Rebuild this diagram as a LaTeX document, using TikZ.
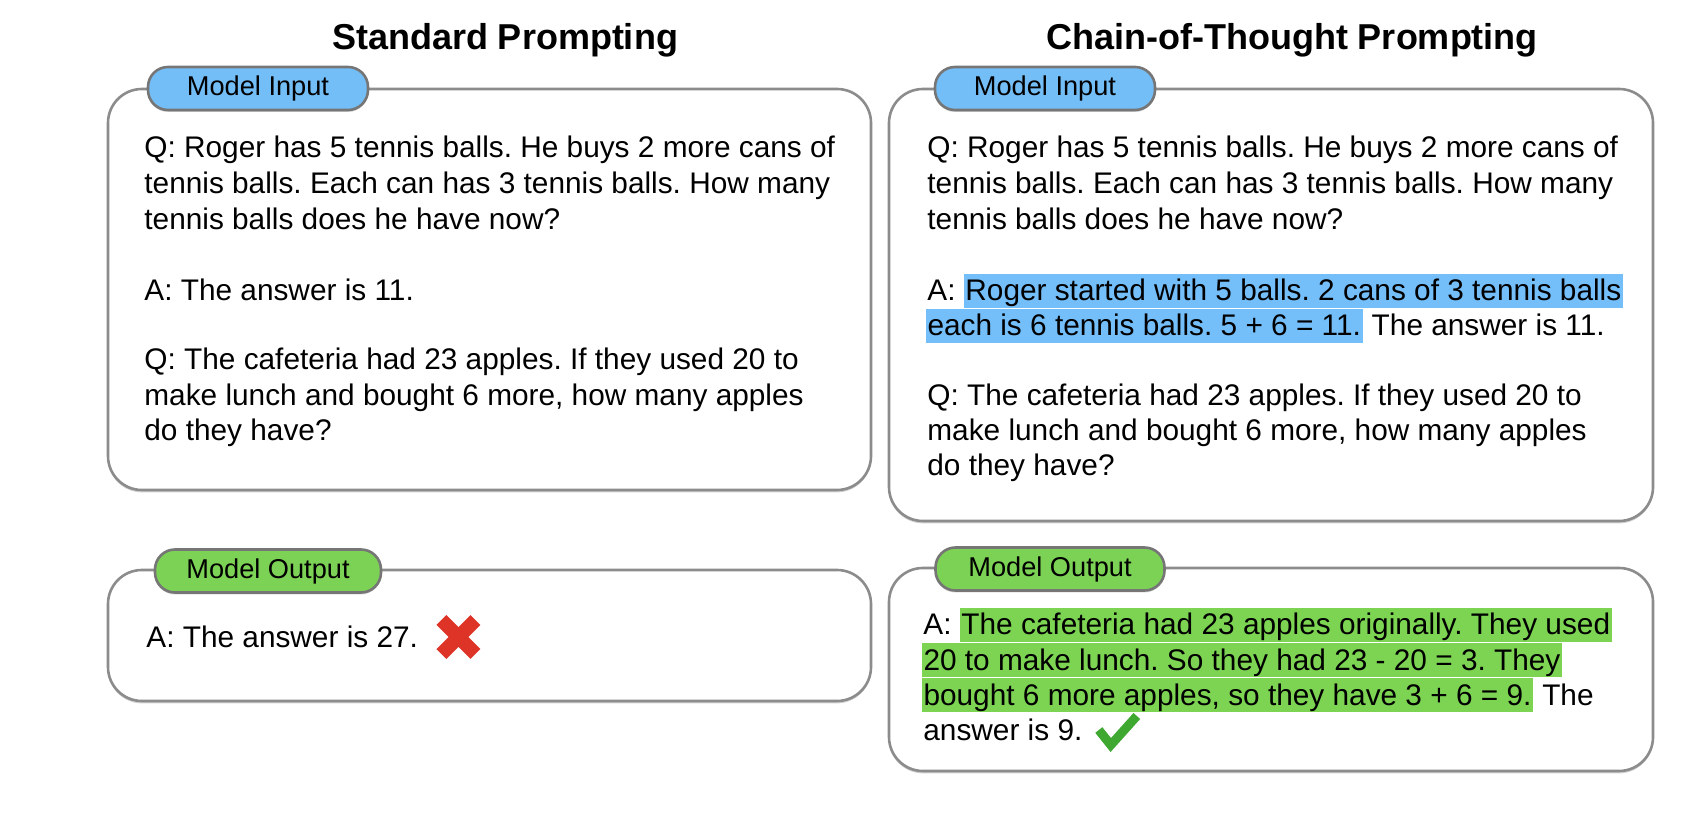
\documentclass[tikz,border=0pt]{standalone}
\usepackage{fontspec}
\setmainfont{Liberation Sans}
\usetikzlibrary{shadows,calc}
\definecolor{edge}{RGB}{140,140,140}
\definecolor{pilledge}{RGB}{118,118,118}
\definecolor{inblue}{RGB}{116,190,248}
\definecolor{outgreen}{RGB}{124,210,84}
\definecolor{hlblue}{RGB}{116,190,250}
\definecolor{hlgreen}{RGB}{124,212,82}
\definecolor{xred}{RGB}{222,52,40}
\definecolor{okgreen}{RGB}{62,168,48}
\newcommand\bodyfont{\fontsize{14.9}{17.8}\selectfont}
\frenchspacing
\begin{document}
\begin{tikzpicture}[x=0.5pt,y=-0.5pt,
 panel/.style={draw=edge, line width=1.3pt, rounded corners=17pt, fill=white,
   drop shadow={shadow xshift=0pt, shadow yshift=-1.2pt, opacity=0.3, fill=black!60}},
 pill/.style={draw=pilledge, line width=1.3pt, rounded corners=10pt, minimum height=21.5pt,
   inner sep=0pt, font=\fontsize{13.6}{16}\selectfont,
   drop shadow={shadow xshift=0pt, shadow yshift=-1pt, opacity=0.3, fill=black!60}},
 ttl/.style={font=\fontsize{18}{21}\selectfont\bfseries, inner sep=0pt},
 ln/.style={anchor=base west, inner sep=0pt, font=\bodyfont},
 hl/.style={ln, inner xsep=0.8pt, text height=13.6pt, text depth=3.6pt},
]
\useasboundingbox (0,0) rectangle (1696,822);

% titles
\node[ttl] (t1) at (505,40) {Standard Prompting};
\node[ttl] (t2) at (1292,40) {Chain-of-Thought Prompting};

% panels
\draw[panel] (108,89) rectangle (871,490);
\draw[panel] (108,570) rectangle (871,701);
\draw[panel] (889,89) rectangle (1653,521);
\draw[panel] (889,568) rectangle (1653,771);

% pills
\node[pill, fill=inblue, minimum width=110pt] (p1) at (258,88.5) {Model Input};
\node[pill, fill=outgreen, minimum width=113pt] (p2) at (268,571) {Model Output};
\node[pill, fill=inblue, minimum width=110pt] (p3) at (1045,88.5) {Model Input};
\node[pill, fill=outgreen, minimum width=114.5pt] (p4) at (1050,569) {Model Output};

% left input text
\node[ln] (l1) at (144,158) {Q: Roger has 5 tennis balls. He buys 2 more cans of};
\node[ln] (l2) at (144,194) {tennis balls. Each can has 3 tennis balls. How many};
\node[ln] (l3) at (144,230) {tennis balls does he have now?};
\node[ln] (l4) at (144,301) {A: The answer is 11.};
\node[ln] (l5) at (144,370) {Q: The cafeteria had 23 apples. If they used 20 to};
\node[ln] (l6) at (144,406) {make lunch and bought 6 more, how many apples};
\node[ln] (l7) at (144,441) {do they have?};

% left output
\node[ln] (lo) at (146,647) {A: The answer is 27.};
\coordinate (xc) at ($(lo.base east)+(40,-10)$);
\draw[xred, line width=7pt] ($(xc)+(-17,-17)$) -- ($(xc)+(17,17)$);
\draw[xred, line width=7pt] ($(xc)+(17,-17)$) -- ($(xc)+(-17,17)$);

% right input text
\node[ln] (r1) at (927,158) {Q: Roger has 5 tennis balls. He buys 2 more cans of};
\node[ln] (r2) at (927,194) {tennis balls. Each can has 3 tennis balls. How many};
\node[ln] (r3) at (927,230) {tennis balls does he have now?};
\node[ln] (r4a) at (927,301) {A:\kern0.25em};
\node[hl, fill=hlblue] (r4b) at (r4a.base east) {Roger started with 5 balls. 2 cans of 3 tennis balls};
\node[hl, fill=hlblue] (r5a) at (925.5,336) {each is 6 tennis balls. 5 + 6 = 11.};
\node[ln] (r5b) at (r5a.base east) {\kern0.28em The answer is 11.};
\node[ln] (r6) at (927,406) {Q: The cafeteria had 23 apples. If they used 20 to};
\node[ln] (r7) at (927,441) {make lunch and bought 6 more, how many apples};
\node[ln] (r8) at (927,476) {do they have?};

% right output text
\node[ln] (o1a) at (923,635) {A:\kern0.25em};
\node[hl, fill=hlgreen] (o1b) at (o1a.base east) {The cafeteria had 23 apples originally. They used};
\node[hl, fill=hlgreen] (o2) at (921.5,670) {20 to make lunch. So they had 23 - 20 = 3. They};
\node[hl, fill=hlgreen] (o3a) at (921.5,705) {bought 6 more apples, so they have 3 + 6 = 9.};
\node[ln] (o3b) at (o3a.base east) {\kern0.28em The};
\node[ln] (o4) at (923,740) {answer is 9.};
\coordinate (ck) at (o4.base east);
\draw[okgreen, line width=4.5pt, line join=miter] ($(ck)+(16,-10)$) -- ($(ck)+(28,5)$) -- ($(ck)+(54,-24)$);
\end{tikzpicture}
\end{document}
